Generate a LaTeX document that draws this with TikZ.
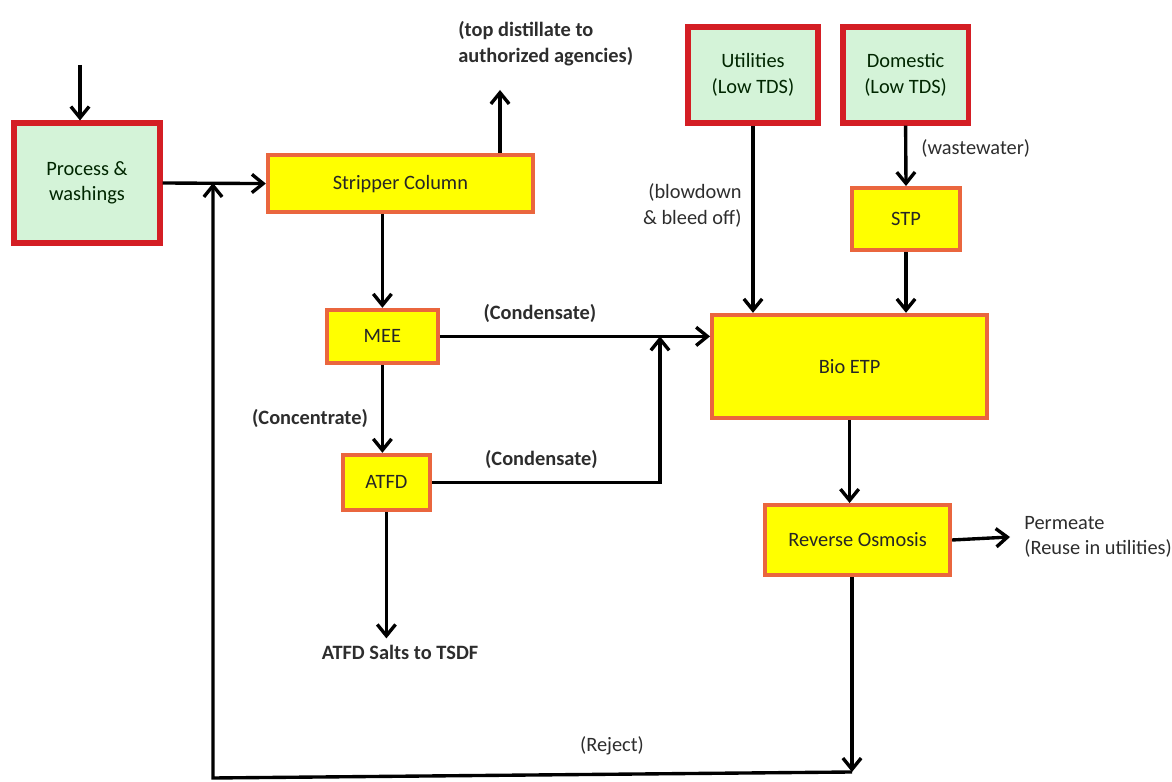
\documentclass[tikz,border=0pt]{standalone}
\usepackage{fontspec}
\setmainfont{Carlito}
\usepackage{tikz}
\usetikzlibrary{arrows.meta}
\usetikzlibrary{calc}

\definecolor{srcred}{RGB}{212,30,36}
\definecolor{srcgreen}{RGB}{212,243,216}
\definecolor{unitorange}{RGB}{234,102,62}
\definecolor{unityellow}{RGB}{255,255,0}
\definecolor{txtgray}{RGB}{45,45,45}

\begin{document}
\begin{tikzpicture}[>={Straight Barb[length=8pt,width=13pt]}, line width=2.4pt,
  every node/.style={font=\fontsize{14.5}{18}\selectfont, text=txtgray},
  srcbox/.style={draw=srcred, line width=3.6pt, fill=srcgreen, align=center, text=black!75!green!60!black},
  unitbox/.style={draw=unitorange, line width=2.8pt, fill=unityellow, align=center, text=black!85},]
\useasboundingbox (0,0) rectangle (29.3,19.55);
% sources
\node[srcbox, minimum width=3.65cm, minimum height=3.0cm] (1) at (2.175, 14.975) {Process \&\\washings} ;
\node[srcbox, minimum width=3.25cm, minimum height=2.4cm] (8) at (18.825, 17.675) {Utilities\\(Low TDS)} ;
\node[srcbox, minimum width=3.13cm, minimum height=2.4cm] (9) at (22.64, 17.675) {Domestic\\(Low TDS)} ;
% treatment units
\node[unitbox, minimum width=6.63cm, minimum height=1.43cm] (2) at (10.01, 14.96) {Stripper Column} ;
\node[unitbox, minimum width=2.78cm, minimum height=1.33cm] (3) at (9.56, 11.14) {MEE} ;
\node[unitbox, minimum width=2.18cm, minimum height=1.38cm] (4) at (9.66, 7.49) {ATFD} ;
\node[unitbox, minimum width=2.7cm, minimum height=1.55cm] (10) at (22.65, 14.075) {STP} ;
\node[unitbox, minimum width=6.88cm, minimum height=2.58cm] (7) at (21.24, 10.39) {Bio ETP} ;
\node[unitbox, minimum width=4.63cm, minimum height=1.75cm] (11) at (21.44, 6.05) {Reverse Osmosis} ;
% end points and labels
\node (5) at (10.0, 3.25) {\bfseries ATFD Salts to TSDF} ;
\node[anchor=west, align=left] (6) at (11.3, 18.46) {\bfseries (top distillate to\\\bfseries authorized agencies)} ;
\node[anchor=west, align=left] (12) at (25.45, 6.125) {Permeate\\(Reuse in utilities)} ;
\node[anchor=east, align=right] (13) at (18.7, 14.41) {(blowdown\\\& bleed off)} ;
\node[anchor=west] (14) at (22.875, 15.85) {(wastewater)} ;
\node (15) at (7.75, 9.1) {\bfseries (Concentrate)} ;
\node (16) at (15.3, 0.9) {(Reject)} ;
\coordinate (in) at (2.0, 17.925) ;
\coordinate (td) at (12.5, 17.3) ;
\coordinate (j1) at (16.5, 11.14) ;
\coordinate (pm) at (25.25, 6.125) ;
\coordinate (r1) at (21.3, 0.25) ;
\coordinate (r2) at (5.325, 0.1) ;
  \draw [->] (in)--(in |- 1.north);
  \draw [->] (1.east)--(2.west);
  \draw [->] (td |- 2.north)--(td);
  \draw [->] (2.south -| 3.north)--(3.north);
  \draw [->] (3.east)--(3.east -| 7.west)node[pos=0.37, above=5pt] (17) {\bfseries (Condensate)};
  \draw [->] (3.south)--(3.south |- 4.north);
  \draw [->] (4.east)-|(j1)node[pos=0.24, above=5pt] (18) {\bfseries (Condensate)};
  \draw [->] (4.south)--(4.south |- 5.north);
  \draw [->] (8.south)--(8.south |- 7.north);
  \draw [->] (9.south)--(10.north);
  \draw [->] (10.south)--(10.south |- 7.north);
  \draw [->] (7.south)--(7.south |- 11.north);
  \draw [->] (11.east)--(pm);
  \draw [->] (11.south -| r1)--(r1);
  \draw [->] (r1)--(r2)--(r2 |- 1.east);
\end{tikzpicture}
\end{document}
